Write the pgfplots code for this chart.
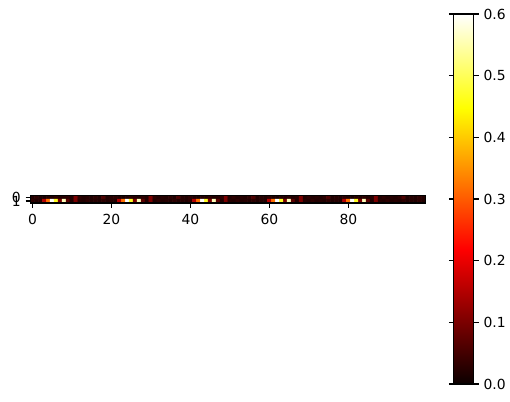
\documentclass[border=0pt]{standalone}
\usepackage{pgfplots}
\pgfplotsset{compat=1.18}
\usepackage{fontspec}
\setmainfont{DejaVu Sans}
\begin{document}
\begin{tikzpicture}
\useasboundingbox (0,0) rectangle (367.2pt,-289.44pt);
\begin{axis}[
  at={(21.96pt,-146.16pt)}, anchor=south west,
  scale only axis, width=284.4pt, height=5.69pt,
  xmin=-0.5, xmax=99.5, ymin=-0.5, ymax=1.5,
  y dir=reverse, enlargelimits=false, axis on top,
  colormap={mplhot}{rgb(0pt)=(0.0416,0,0); rgb(36.5079pt)=(1,0,0); rgb(74.6032pt)=(1,1,0); rgb(100pt)=(1,1,1)},
  point meta min=0, point meta max=0.6,
  xtick={0,20,40,60,80}, ytick={0,1},
  xtick pos=bottom, ytick pos=left, tick align=outside,
  major tick length=3.5pt,
  every tick/.style={black, line width=0.8pt},
  axis line style={line width=0.8pt},
  tick label style={font=\fontsize{10}{12}\selectfont},
  /pgf/number format/assume math mode=true,
  xticklabel style={yshift=-1pt},
  colorbar,
  colorbar style={
    at={(parent axis.south east)}, anchor=south west,
    xshift=11.88pt, yshift=-130.32pt,
    scale only axis, width=14.4pt, height=266.4pt,
    ytick={0,0.1,0.2,0.3,0.4,0.5,0.6},
    tick align=outside, major tick length=3.5pt,
    every tick/.style={black, line width=0.8pt},
    axis line style={line width=0.8pt},
    yticklabel style={font=\fontsize{10}{12}\selectfont, /pgf/number format/.cd, fixed, fixed zerofill, precision=1, assume math mode=true},
  },
]
\addplot[matrix plot*, mesh/cols=100, mesh/rows=2, point meta=explicit] table[row sep=\\, meta=c] {
x y c\\
0 0 0.02\\ 1 0 0.03\\ 2 0 0.02\\ 3 0 0.015\\ 4 0 0.025\\ 5 0 0.02\\ 6 0 0.03\\ 7 0 0.02\\ 8 0 0.025\\ 9 0 0.03\\
10 0 0.02\\ 11 0 0.1\\ 12 0 0.03\\ 13 0 0.02\\ 14 0 0.025\\ 15 0 0.02\\ 16 0 0.03\\ 17 0 0.02\\ 18 0 0.06\\ 19 0 0.02\\
20 0 0.025\\ 21 0 0.03\\ 22 0 0.02\\ 23 0 0.015\\ 24 0 0.02\\ 25 0 0.03\\ 26 0 0.025\\ 27 0 0.02\\ 28 0 0.03\\ 29 0 0.02\\
30 0 0.1\\ 31 0 0.03\\ 32 0 0.02\\ 33 0 0.025\\ 34 0 0.02\\ 35 0 0.03\\ 36 0 0.02\\ 37 0 0.06\\ 38 0 0.025\\ 39 0 0.02\\
40 0 0.03\\ 41 0 0.02\\ 42 0 0.015\\ 43 0 0.025\\ 44 0 0.02\\ 45 0 0.03\\ 46 0 0.02\\ 47 0 0.025\\ 48 0 0.03\\ 49 0 0.1\\
50 0 0.02\\ 51 0 0.03\\ 52 0 0.02\\ 53 0 0.025\\ 54 0 0.02\\ 55 0 0.03\\ 56 0 0.06\\ 57 0 0.02\\ 58 0 0.025\\ 59 0 0.02\\
60 0 0.03\\ 61 0 0.02\\ 62 0 0.015\\ 63 0 0.025\\ 64 0 0.02\\ 65 0 0.03\\ 66 0 0.02\\ 67 0 0.025\\ 68 0 0.1\\ 69 0 0.02\\
70 0 0.03\\ 71 0 0.02\\ 72 0 0.025\\ 73 0 0.02\\ 74 0 0.03\\ 75 0 0.06\\ 76 0 0.02\\ 77 0 0.025\\ 78 0 0.02\\ 79 0 0.03\\
80 0 0.02\\ 81 0 0.015\\ 82 0 0.025\\ 83 0 0.02\\ 84 0 0.03\\ 85 0 0.02\\ 86 0 0.025\\ 87 0 0.1\\ 88 0 0.02\\ 89 0 0.03\\
90 0 0.02\\ 91 0 0.025\\ 92 0 0.02\\ 93 0 0.03\\ 94 0 0.06\\ 95 0 0.02\\ 96 0 0.025\\ 97 0 0.02\\ 98 0 0.03\\ 99 0 0.02\\
0 1 0.03\\ 1 1 0.02\\ 2 1 0.025\\ 3 1 0.15\\ 4 1 0.32\\ 5 1 0.6\\ 6 1 0.47\\ 7 1 0.1\\ 8 1 0.56\\ 9 1 0.07\\
10 1 0.02\\ 11 1 0.1\\ 12 1 0.025\\ 13 1 0.02\\ 14 1 0.03\\ 15 1 0.02\\ 16 1 0.025\\ 17 1 0.02\\ 18 1 0.03\\ 19 1 0.02\\
20 1 0.025\\ 21 1 0.02\\ 22 1 0.15\\ 23 1 0.32\\ 24 1 0.6\\ 25 1 0.47\\ 26 1 0.1\\ 27 1 0.56\\ 28 1 0.07\\ 29 1 0.02\\
30 1 0.1\\ 31 1 0.02\\ 32 1 0.03\\ 33 1 0.02\\ 34 1 0.025\\ 35 1 0.02\\ 36 1 0.03\\ 37 1 0.02\\ 38 1 0.025\\ 39 1 0.02\\
40 1 0.03\\ 41 1 0.15\\ 42 1 0.32\\ 43 1 0.6\\ 44 1 0.47\\ 45 1 0.1\\ 46 1 0.56\\ 47 1 0.07\\ 48 1 0.02\\ 49 1 0.1\\
50 1 0.025\\ 51 1 0.02\\ 52 1 0.03\\ 53 1 0.02\\ 54 1 0.025\\ 55 1 0.02\\ 56 1 0.03\\ 57 1 0.02\\ 58 1 0.025\\ 59 1 0.02\\
60 1 0.15\\ 61 1 0.32\\ 62 1 0.6\\ 63 1 0.47\\ 64 1 0.1\\ 65 1 0.56\\ 66 1 0.07\\ 67 1 0.02\\ 68 1 0.1\\ 69 1 0.025\\
70 1 0.02\\ 71 1 0.03\\ 72 1 0.02\\ 73 1 0.025\\ 74 1 0.02\\ 75 1 0.03\\ 76 1 0.02\\ 77 1 0.025\\ 78 1 0.02\\ 79 1 0.15\\
80 1 0.32\\ 81 1 0.6\\ 82 1 0.47\\ 83 1 0.1\\ 84 1 0.56\\ 85 1 0.07\\ 86 1 0.02\\ 87 1 0.1\\ 88 1 0.025\\ 89 1 0.02\\
90 1 0.03\\ 91 1 0.02\\ 92 1 0.025\\ 93 1 0.02\\ 94 1 0.03\\ 95 1 0.02\\ 96 1 0.025\\ 97 1 0.02\\ 98 1 0.03\\ 99 1 0.02\\
};
\end{axis}
\end{tikzpicture}
\end{document}
